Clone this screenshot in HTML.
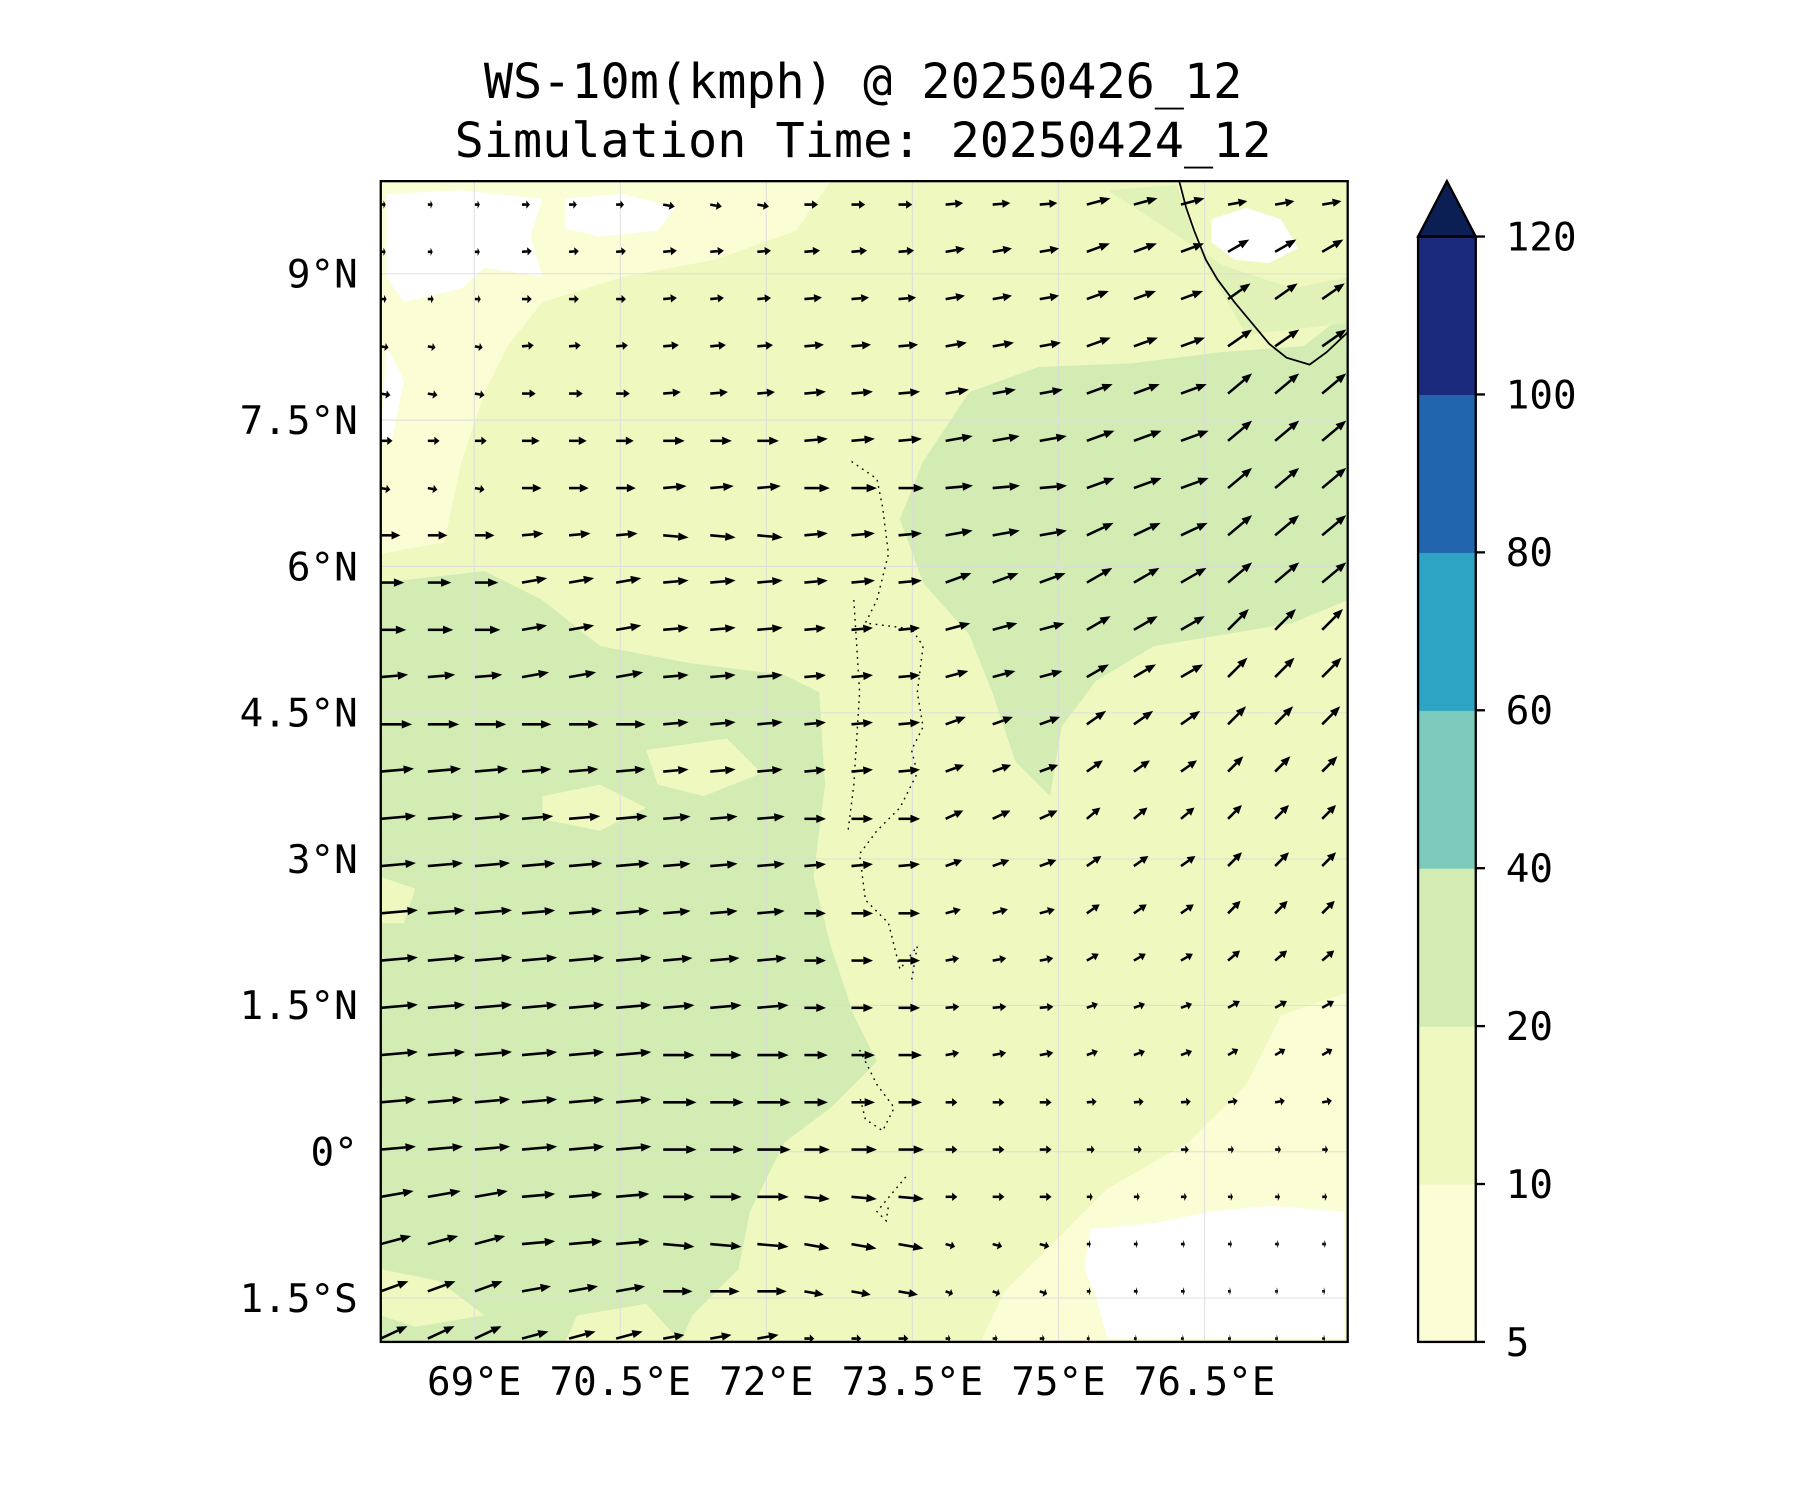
<!DOCTYPE html>
<html><head><meta charset="utf-8"><style>
html,body{margin:0;padding:0;background:#fff;}
svg{display:block;}
text{font-family:"DejaVu Sans Mono","Liberation Mono",monospace;fill:#000;}
</style></head><body>
<svg id="fig" width="1800" height="1500" viewBox="0 0 1560 1300" xmlns="http://www.w3.org/2000/svg">
<rect width="1560" height="1300" fill="#fff"/>
<text x="748" y="85" font-size="42" text-anchor="middle">WS-10m(kmph) @ 20250426_12</text>
<text x="748" y="136" font-size="42" text-anchor="middle">Simulation Time: 20250424_12</text>
<defs><clipPath id="mapclip"><rect x="330" y="157" width="838" height="1006"/></clipPath></defs>
<g id="map" clip-path="url(#mapclip)">
<rect x="330" y="157" width="838" height="1006" fill="#eff8bf"/>
<path fill="#fbfdd5" d="M330,157 L720,157 L690,200 L620,225 L540,240 L470,262 L440,300 L420,340 L400,400 L385,470 L330,480 Z"/>
<path fill="#ffffff" d="M335,168 L400,165 L470,172 L460,205 L470,240 L420,232 L400,250 L350,262 L335,240 Z M490,172 L540,168 L585,180 L570,200 L520,205 L490,198 Z M335,300 L350,330 L340,380 L330,380 Z"/>
<path fill="#d2ecb4" d="M330,505 L420,495 L470,520 L520,560 L600,575 L680,585 L710,600 L715,680 L705,760 L720,820 L740,880 L760,920 L720,960 L680,990 L650,1050 L640,1100 L600,1140 L590,1163 L330,1163 Z"/>
<path fill="#eff8bf" d="M470,690 L520,680 L560,700 L520,720 L470,710 Z M560,650 L630,640 L660,670 L610,690 L570,680 Z M330,760 L360,770 L350,800 L330,800 Z M330,1100 L380,1110 L420,1140 L360,1150 L330,1140 Z M500,1140 L560,1130 L590,1163 L490,1163 Z"/>
<path fill="#d2ecb4" d="M800,400 L840,340 L900,318 L980,315 L1060,305 L1130,300 L1168,270 L1168,520 L1120,540 L1060,550 L1000,560 L950,590 L920,630 L910,690 L880,660 L860,600 L840,550 L800,505 L780,450 Z"/>
<path fill="#e0f2b8" d="M960,165 L1020,160 L1040,220 L1080,290 L1168,280 L1168,240 L1120,250 L1060,230 Z"/>
<path fill="#fbfdd5" d="M850,1163 L870,1120 L910,1080 L960,1030 L1030,990 L1080,940 L1110,880 L1168,860 L1168,1163 Z"/>
<path fill="#ffffff" d="M945,1065 L1000,1060 L1050,1050 L1100,1045 L1165,1050 L1165,1160 L960,1160 L950,1125 L940,1100 Z"/>
<path fill="#ffffff" d="M1050,190 L1080,180 L1110,190 L1125,215 L1100,228 L1070,225 L1050,210 Z"/>
<g stroke="#dcdcdc" stroke-width="1" opacity="0.8" id="grid"></g>
<path fill="none" stroke="#000" stroke-width="1.5" d="M1022,157 L1028,180 L1035,200 L1045,225 L1055,242 L1070,262 L1085,280 L1100,298 L1115,310 L1135,316 L1150,305 L1168,288"/>
<path fill="none" stroke="#000" stroke-width="1.2" stroke-dasharray="1.5,4" d="M738,400 L760,415 L765,440 L770,480 L760,520 L750,540 L790,545 L800,560 L795,600 L800,630 L790,650 L795,670 L780,700 L760,720 L745,740 L750,780 L770,800 L780,840 L795,820 L790,850 M740,520 L745,600 L740,680 L735,720 M745,910 L760,940 L775,960 L765,980 L750,970 L745,950 M785,1020 L760,1050 L768,1058 L770,1045"/>
<g id="arrows"></g>
</g>
<rect x="330" y="157" width="838" height="1006" fill="none" stroke="#000" stroke-width="2"/>
<g id="axes"></g>
<g id="cbar"></g>
</svg>
<script>
// ---- data ----
const latTicks = [9, 7.5, 6, 4.5, 3, 1.5, 0, -1.5];
const latTickLabels = ["9°N","7.5°N","6°N","4.5°N","3°N","1.5°N","0°","1.5°S"];
const lonTicks = [69, 70.5, 72, 73.5, 75, 76.5];
const lonTickLabels = ["69°E","70.5°E","72°E","73.5°E","75°E","76.5°E"];
const cbarLevels = [5, 10, 20, 40, 60, 80, 100, 120];
const cbarColors = ["#fbfdd5","#eff8bf","#d2ecb4","#7bcabb","#2ea4c4","#2166ad","#1b2a7c"];
const cbarExtendColor = "#0b1f55";
// wind vectors: 25 rows (north->south) x 7 column groups (3 columns each)
const windAngle = [
[0,0,-10,0,5,15,10],[0,5,5,5,10,20,30],[0,0,5,5,10,20,35],[-10,5,5,5,10,20,35],
[-10,0,5,5,10,20,40],[0,0,0,5,10,20,40],[-10,0,5,0,5,20,40],[0,5,-5,5,10,25,40],
[0,10,5,5,20,30,40],[0,10,5,5,15,30,45],[5,10,5,5,15,30,45],[0,0,5,5,20,35,45],
[5,5,5,5,20,35,45],[5,5,5,0,25,40,45],[5,5,5,5,20,35,45],[5,5,5,0,15,35,45],
[5,5,5,0,10,30,40],[5,5,5,0,5,20,30],[5,5,0,0,10,20,30],[5,5,0,0,0,5,10],
[5,5,0,0,0,0,0],[10,5,0,-5,0,0,0],[15,5,-5,-10,-15,0,0],[20,10,0,-10,-20,0,0],[25,15,10,0,0,0,0]];
const windSpeed = [
[5,8,12,14,18,25,20],[5,10,14,16,20,25,25],[6,10,14,18,20,24,28],[8,12,16,20,22,26,30],
[10,14,18,22,24,28,32],[12,18,22,24,28,30,32],[10,20,24,26,28,30,32],[20,22,26,24,28,30,32],
[24,26,26,24,28,30,32],[26,26,26,22,26,28,30],[28,28,26,22,24,26,28],[32,30,26,22,22,24,26],
[34,30,26,22,20,20,22],[36,32,28,22,20,18,20],[36,34,28,22,18,18,20],[38,34,28,22,16,16,18],
[38,36,30,22,14,14,16],[38,36,32,22,14,12,14],[38,36,32,24,14,12,12],[36,36,34,24,12,10,10],
[36,36,34,26,12,8,6],[34,34,32,26,12,6,5],[32,34,32,26,10,4,4],[30,30,30,20,8,4,3],[30,28,22,10,5,3,3]];
// ---- axis functions ----
const X0=330,X1=1168,Y0=157,Y1=1163,LON0=68.04,LON1=77.97,LAT0=-1.95,LAT1=9.95;
const xOf = lon => X0 + (lon-LON0)/(LON1-LON0)*(X1-X0);
const yOf = lat => Y1 - (lat-LAT0)/(LAT1-LAT0)*(Y1-Y0);
const NS="http://www.w3.org/2000/svg";
function mk(tag, attrs, parent){const e=document.createElementNS(NS,tag);for(const k in attrs)e.setAttribute(k,attrs[k]);parent.appendChild(e);return e;}
const grid=document.getElementById('grid');
latTicks.forEach(v=>{const l=mk('line',{x1:X0,x2:X1,y1:yOf(v),y2:yOf(v)},grid);

});
lonTicks.forEach(v=>{const l=mk('line',{x1:xOf(v),x2:xOf(v),y1:Y0,y2:Y1},grid);

});
const axes=document.getElementById('axes');
latTicks.forEach((v,i)=>{const t=mk('text',{x:310,y:yOf(v)+12,'font-size':34,'text-anchor':'end'},axes);t.textContent=latTickLabels[i];

});
lonTicks.forEach((v,i)=>{const t=mk('text',{x:xOf(v),y:1209,'font-size':34,'text-anchor':'middle'},axes);t.textContent=lonTickLabels[i];

});
// arrows
const arrows=document.getElementById('arrows');
const LONSTEP=0.4834, LATSTEP=0.4844, LONSTART=68.04, LATSTART=9.71, LSCALE=0.85;
windAngle.forEach((row,j)=>{
  for(let i=0;i<21;i++){
    const g=Math.floor(i/3);
    const a=row[g]*Math.PI/180, L=windSpeed[j][g]*LSCALE;
    const x=xOf(LONSTART+i*LONSTEP), y=yOf(LATSTART-j*LATSTEP);
    const ex=x+L*Math.cos(a), ey=y-L*Math.sin(a);
    const hl=Math.min(9,L*0.45), hw=3.6;
    const bx=ex-hl*Math.cos(a), by=ey+hl*Math.sin(a);
    const px=-Math.sin(a)*hw, py=-Math.cos(a)*hw;
    const grp=mk('g',{},arrows);
    
    
    mk('line',{x1:x,y1:y,x2:bx,y2:by,stroke:'#000','stroke-width':2.2},grp);
    mk('polygon',{points:`${ex},${ey} ${bx+px},${by+py} ${bx-px},${by-py}`,fill:'#000'},grp);
  }
});
// colorbar
const cb=document.getElementById('cbar');
const CX=1229,CW=50,CT=205,CB=1163,n=cbarLevels.length-1,seg=(CB-CT)/n;
const cy=k=>CB-k*seg;
cbarColors.forEach((c,k)=>{const r=mk('rect',{x:CX,y:cy(k+1),width:CW,height:seg+0.5,fill:c},cb);

});
const tri=mk('polygon',{points:`${CX},${CT} ${CX+CW/2},157 ${CX+CW},${CT}`,fill:cbarExtendColor,stroke:'#000','stroke-width':2},cb);


mk('rect',{x:CX,y:CT,width:CW,height:CB-CT,fill:'none',stroke:'#000','stroke-width':2},cb);
cbarLevels.forEach((v,k)=>{mk('line',{x1:CX+CW,x2:CX+CW+8,y1:cy(k),y2:cy(k),stroke:'#000','stroke-width':2},cb);
const t=mk('text',{x:1305,y:cy(k)+12,'font-size':34},cb);t.textContent=v;

});
</script>
</body></html>
